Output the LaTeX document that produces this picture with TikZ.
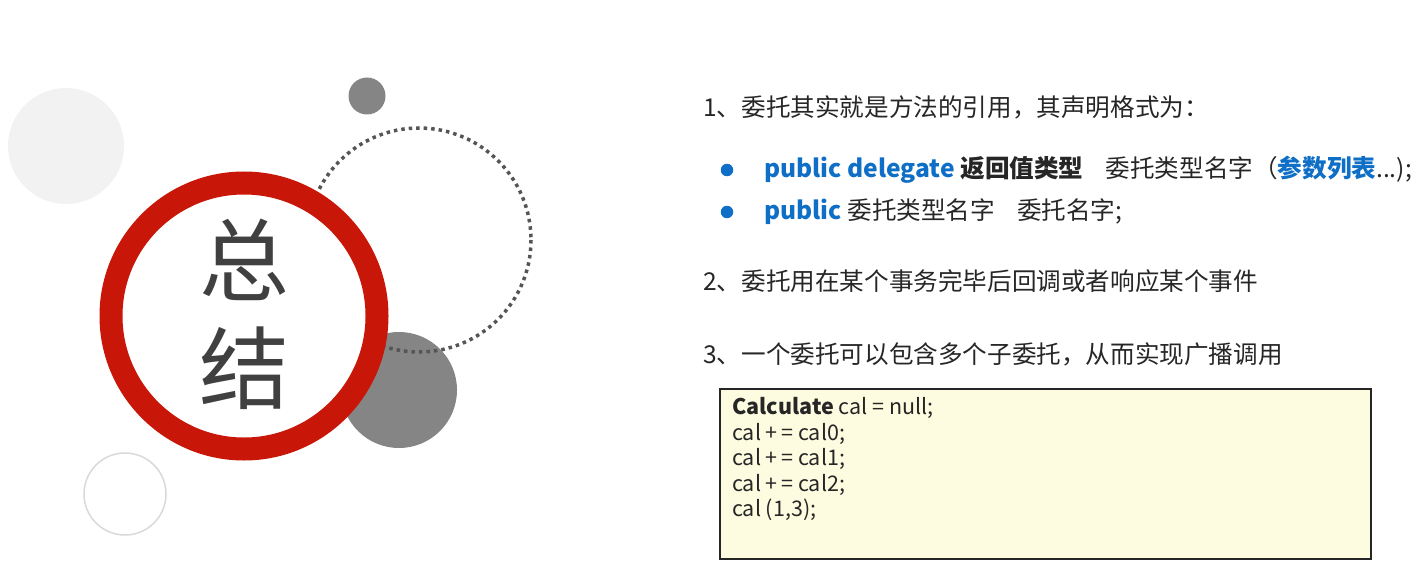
\documentclass[tikz,border=0pt]{standalone}
\usepackage{fontspec}
\setmainfont{Noto Sans CJK SC}
\definecolor{ringred}{HTML}{C81708}
\definecolor{txtgray}{HTML}{404040}
\definecolor{dkgray}{HTML}{858585}
\definecolor{ltgray}{HTML}{F2F2F2}
\definecolor{dotgray}{HTML}{555555}
\definecolor{kwblue}{HTML}{0F6FC6}
\definecolor{codebg}{HTML}{FEFCE0}
\begin{document}
\begin{tikzpicture}[x=1pt,y=-1pt,
  txt/.style={anchor=west,inner sep=0pt,font=\fontsize{24.6}{28}\selectfont,text=black!85},
  codeline/.style={anchor=west,inner sep=0pt,font=\fontsize{21.5}{24}\selectfont,text=black!85},
  bulletdot/.style={circle,fill=kwblue,inner sep=0pt,minimum size=12.5pt}]
\useasboundingbox (0,0) rectangle (1423,575);
% decorative circles
\fill[ltgray] (66,146) circle (58);
\draw[black!15,line width=1.5pt] (125,494) circle (41);
\fill[dkgray] (367,96) circle (18.5);
\fill[dkgray] (399,390) circle (58);
\draw[dotgray,line width=3.5pt,dash pattern=on 3.5pt off 4pt] (419,240) circle (112);
% red ring
\draw[ringred,fill=white,line width=23pt] (244,316) circle (133);
\node[inner sep=0pt,text=txtgray,font=\fontsize{90}{108}\selectfont,align=center] (title) at (244,314) {总\\结};
% text
\node[txt] (l1) at (703,107) {1、委托其实就是方法的引用，其声明格式为：};
\node[bulletdot] (b1) at (727,170) {};
\node[txt] (l2) at (764,170) {\textcolor{kwblue}{\bfseries public delegate} {\bfseries 返回值类型}\hspace{0.9em}委托类型名字（\textcolor{kwblue}{\bfseries 参数列表}...);};
\node[bulletdot] (b2) at (727,212) {};
\node[txt] (l3) at (764,212) {\textcolor{kwblue}{\bfseries public} 委托类型名字\hspace{0.9em}委托名字;};
\node[txt] (l4) at (703,281) {2、委托用在某个事务完毕后回调或者响应某个事件};
\node[txt] (l5) at (703,354) {3、一个委托可以包含多个子委托，从而实现广播调用};
% code box
\node[draw=black!85,line width=1.5pt,fill=codebg,minimum width=651pt,minimum height=170pt,anchor=north west] (box) at (719,388) {};
\node[codeline] (c1) at (732,408) {\bfseries Calculate\mdseries{} cal = null;};
\node[codeline] (c2) at (732,433.5) {cal +\,= cal0;};
\node[codeline] (c3) at (732,459) {cal +\,= cal1;};
\node[codeline] (c4) at (732,484.5) {cal +\,= cal2;};
\node[codeline] (c5) at (732,510) {cal (1,3);};
\end{tikzpicture}
\end{document}
